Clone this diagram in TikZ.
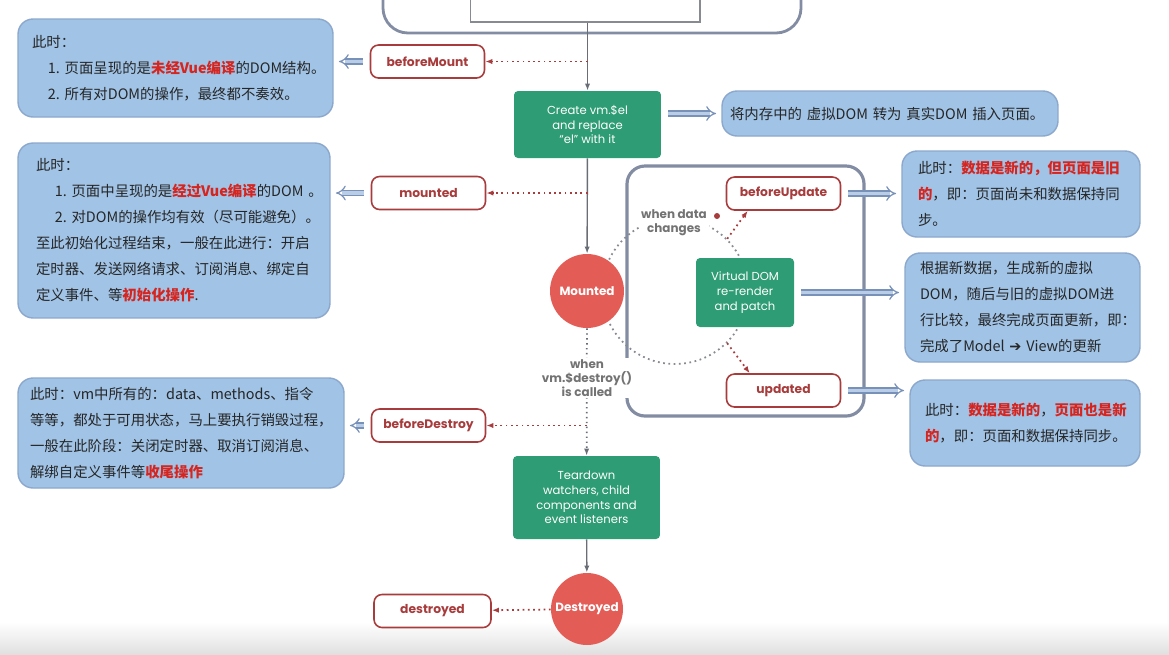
\documentclass[tikz,border=0pt]{standalone}
\usepackage{fontspec}
\setmainfont{Noto Sans CJK SC}
\newfontfamily\lblfont{Poppins}
\newfontfamily\symfont{DejaVu Sans}
\usetikzlibrary{arrows.meta,positioning}

\definecolor{noteblue}{RGB}{160,195,230}
\definecolor{noteedge}{RGB}{140,168,205}
\definecolor{hookred}{RGB}{168,60,60}
\definecolor{keyred}{RGB}{214,36,30}
\definecolor{vuegreen}{RGB}{46,156,116}
\definecolor{circred}{RGB}{228,92,86}
\definecolor{flowgray}{RGB}{105,110,118}
\definecolor{arrowblue}{RGB}{120,145,185}
\definecolor{arrowfill}{RGB}{185,205,230}
\definecolor{framegray}{RGB}{130,140,162}

\newcommand{\key}[1]{\textcolor{keyred}{\bfseries #1}}

\tikzset{
  notebox/.style={draw=noteedge, fill=noteblue, rounded corners=0.3cm, line width=0.8pt,
    align=left, text=black!85, font=\fontsize{8.2}{14.8}\selectfont},
  hookbox/.style={draw=hookred, fill=white, rounded corners=0.16cm, line width=0.9pt,
    minimum width=2.28cm, minimum height=0.66cm, text=hookred,
    font=\lblfont\bfseries\fontsize{7}{8}\selectfont},
  greenbox/.style={fill=vuegreen, rounded corners=0.08cm, text=white, align=center,
    font=\lblfont\fontsize{6.6}{8.4}\selectfont},
  redcircle/.style={circle, fill=circred, text=white, minimum size=1.48cm, inner sep=0pt,
    font=\lblfont\bfseries\fontsize{6.8}{8}\selectfont},
  graytext/.style={fill=white, text=black!55, align=center, inner sep=1pt,
    font=\lblfont\bfseries\fontsize{6.8}{8}\selectfont},
  flow/.style={flowgray, line width=0.8pt, -{Latex[length=4pt,width=3pt]}},
  flowdot/.style={flow, dotted, line width=1pt},
  hookline/.style={hookred, dotted, line width=1pt, -{Latex[length=4pt,width=3pt]}},
  bluearrow/.style={draw=arrowblue, double=arrowfill, double distance=2.2pt, line width=0.7pt,
    -{Implies}, shorten >=3pt, shorten <=4pt},
}

\begin{document}
\begin{tikzpicture}[x=0.02cm, y=-0.02cm]
\useasboundingbox (0,0) rectangle (1169,654);
\shade[top color=white, bottom color=black!12] (0,622) rectangle (1169,654);

%\draw[help lines] (0,0) grid (1169,654);
\draw[framegray, line width=1.6pt, rounded corners=0.5cm, fill=white] (383,-40) rectangle (801,33);
\node[draw=flowgray!80, line width=0.6pt, fill=white, minimum width=4.6cm, minimum height=1.04cm] (template) at (585,-4) {};

\draw[framegray, line width=1.8pt, rounded corners=0.36cm] (627,166) rectangle (864,416);
\node[circle, draw=flowgray!80, dotted, line width=1pt, minimum size=2.92cm] (loop) at (675,291) {};

% notes on the left
\node[notebox, minimum width=6.3cm, minimum height=1.96cm, text width=5.74cm, inner xsep=0.28cm] (mountnote) at (175.5,68)
  {此时：\\\hspace*{1.1em}1.~页面呈现的是\key{未经Vue编译}的DOM结构。\\\hspace*{1.1em}2.~所有对DOM的操作，最终都不奏效。};
\node[notebox, minimum width=6.24cm, minimum height=3.5cm, text width=5.52cm, inner xsep=0.36cm] (mountednote) at (174,230.5)
  {此时：\\\hspace*{1.3em}1.~页面中呈现的是\key{经过Vue编译}的DOM~。\\\hspace*{1.3em}2.~对DOM的操作均有效（尽可能避免）。\\至此初始化过程结束，一般在此进行：开启\\定时器、发送网络请求、订阅消息、绑定自\\定义事件、等\key{初始化操作}.};
\node[notebox, minimum width=6.52cm, minimum height=2.2cm, text width=6.04cm, inner xsep=0.24cm] (destroynote) at (181,433)
  {此时：vm中所有的：data、methods、指令\\等等，都处于可用状态，马上要执行销毁过程，\\一般在此阶段：关闭定时器、取消订阅消息、\\解绑自定义事件等\key{收尾操作}};

% notes on the right
\node[notebox, minimum width=6.72cm, minimum height=0.9cm, text width=6.4cm, inner xsep=0.16cm] (domnote) at (890,113.5)
  {\mbox{将内存中的~虚拟DOM~转为~真实DOM~插入页面。}};
\node[notebox, minimum width=4.76cm, minimum height=1.72cm, text width=4.12cm, inner xsep=0.32cm] (updatenote) at (1021,194)
  {此时：\key{数据是新的，但页面是旧}\\\key{的}，即：页面尚未和数据保持同\\步。};
\node[notebox, minimum width=4.7cm, minimum height=2.18cm, text width=4.1cm, inner xsep=0.3cm] (patchnote) at (1022.5,307.5)
  {根据新数据，生成新的虚拟\\DOM，随后与旧的虚拟DOM进\\行比较，最终完成页面更新，即：\\完成了Model~{\symfont ➔}~View的更新};
\node[notebox, minimum width=4.6cm, minimum height=1.72cm, text width=4.0cm, inner xsep=0.3cm] (updatednote) at (1025,423)
  {此时：\key{数据是新的}，\key{页面也是新}\\\key{的}，即：页面和数据保持同步。};

% lifecycle
\node[greenbox, minimum width=2.94cm, minimum height=1.34cm] (create) at (587.5,124.5) {Create vm.\$el\\and replace\\“el” with it};
\node[redcircle] (stMounted) at (587,291) {Mounted};
\node[greenbox, minimum width=1.96cm, minimum height=1.38cm] (vdom) at (745,292.5) {Virtual DOM\\re-render\\and patch};
\node[greenbox, minimum width=2.94cm, minimum height=1.66cm] (teardown) at (586.5,497.5) {Teardown\\watchers, child\\components and\\event listeners};
\node[redcircle, minimum size=1.44cm] (stDestroyed) at (587,609) {Destroyed};

\node[hookbox] (beforeMount) at (427.5,61.5) {beforeMount};
\node[hookbox] (mounted) at (428.5,193) {mounted};
\node[hookbox] (beforeDestroy) at (428.5,425.5) {beforeDestroy};
\node[hookbox, minimum width=2.34cm] (destroyed) at (432.5,611) {destroyed};
\node[hookbox] (beforeUpdate) at (783.5,193.5) {beforeUpdate};
\node[hookbox] (updated) at (783.5,390.5) {updated};

\draw[flow] (template.south -| create.north) -- (create.north);
\draw[flow] (create) -- (stMounted);
\draw[flowdot] (stMounted) -- (teardown);
\draw[flow] (teardown) -- (stDestroyed);

\node[graytext] (datachange) at (674,223) {when data\\changes};
\node[circle, fill=hookred, inner sep=0pt, minimum size=0.12cm] (dot) at (717,216) {};
\node[graytext] (destroycall) at (587,378) {when\\vm.\$destroy()\\is called};

\draw[hookline] (beforeMount.east -| create.north) -- (beforeMount.east);
\draw[hookline] (mounted.east -| create.south) -- (mounted.east);
\draw[hookline] (beforeDestroy.east -| teardown.north) -- (beforeDestroy.east);
\draw[hookline] (stDestroyed) -- (destroyed);
\draw[hookline] (loop.north east) -- ([xshift=0.44cm]beforeUpdate.south west);
\draw[hookline] (loop.south east) -- ([xshift=0.48cm]updated.north west);

\draw[bluearrow] (beforeMount.west) -- (beforeMount.west -| mountnote.east);
\draw[bluearrow] (mounted.west) -- (mounted.west -| mountednote.east);
\draw[bluearrow] (beforeDestroy.west) -- (beforeDestroy.west -| destroynote.east);
\draw[bluearrow] (create.east |- domnote.west) -- (domnote.west);
\draw[bluearrow] (beforeUpdate.east) -- (beforeUpdate.east -| updatenote.west);
\draw[bluearrow] (vdom.east) -- (vdom.east -| patchnote.west);
\draw[bluearrow] (updated.east) -- (updated.east -| updatednote.west);
\end{tikzpicture}
\end{document}
